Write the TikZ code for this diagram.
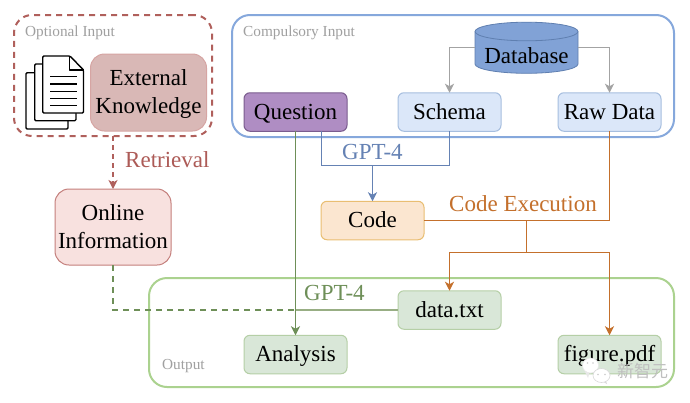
\documentclass[tikz,border=0pt]{standalone}
\usepackage{fontspec}
\setmainfont{Liberation Serif}
\newfontfamily\cjkwm{Noto Sans CJK SC}
\usetikzlibrary{arrows.meta,calc}
\definecolor{redline}{HTML}{B0605C}
\definecolor{redtext}{HTML}{AD5B57}
\definecolor{extfill}{HTML}{D9B8B6}
\definecolor{onlfill}{HTML}{F8E1DF}
\definecolor{onldraw}{HTML}{C47F7C}
\definecolor{blueframe}{HTML}{86A8DC}
\definecolor{dbfill}{HTML}{81A2D6}
\definecolor{dbdraw}{HTML}{5F7FB0}
\definecolor{schfill}{HTML}{DBE7F9}
\definecolor{schdraw}{HTML}{A6BEDF}
\definecolor{qfill}{HTML}{AF8DC3}
\definecolor{qdraw}{HTML}{7A5C8E}
\definecolor{gptblue}{HTML}{6582B4}
\definecolor{codefill}{HTML}{FBE6D0}
\definecolor{codedraw}{HTML}{E9BE72}
\definecolor{orangeline}{HTML}{C4702C}
\definecolor{greenframe}{HTML}{ABD28F}
\definecolor{greenfill}{HTML}{D9E7D8}
\definecolor{greendraw}{HTML}{B5CFA6}
\definecolor{greenline}{HTML}{6E8F58}
\definecolor{greensoft}{HTML}{98AE84}
\definecolor{greytext}{HTML}{A0A0A0}
\definecolor{greyline}{HTML}{A3A3A3}
\tikzset{
  x=1pt,y=-1pt,
  boxbase/.style={rectangle,rounded corners=6pt,line width=1pt,inner sep=0pt,outer sep=0pt,align=center,
    font=\fontsize{23}{28.3}\selectfont,text=black},
  smallbox/.style={boxbase,minimum width=103pt,minimum height=38.5pt,text height=19.5pt,text depth=5pt},
  extbox/.style={boxbase,rounded corners=14pt,minimum width=116pt,minimum height=77pt,draw=onldraw!70,fill=extfill,text height=47pt,text depth=5pt},
  onlbox/.style={boxbase,rounded corners=14pt,minimum width=116pt,minimum height=76pt,draw=onldraw,fill=onlfill,text height=47pt,text depth=4pt},
  qbox/.style={smallbox,draw=qdraw,fill=qfill},
  schbox/.style={smallbox,draw=schdraw,fill=schfill},
  codebox/.style={smallbox,draw=codedraw,fill=codefill},
  outbox/.style={smallbox,draw=greendraw,fill=greenfill},
  framebox/.style={rectangle,rounded corners=18pt,line width=2pt,inner sep=0pt,outer sep=0pt,fill=none},
  captxt/.style={font=\fontsize{15.3}{17}\selectfont,text=greytext,anchor=base west,inner sep=0pt},
  lbl/.style={font=\fontsize{23}{25}\selectfont,anchor=base west,inner sep=0pt},
  tip/.style={-{Stealth[length=9pt,width=9pt,inset=2.5pt]}},
  conn/.style={line width=1.5pt},
  sheet/.style={draw=black,line width=1.4pt,fill=white,rounded corners=1.2pt},
}
\begin{document}
\begin{tikzpicture}
\useasboundingbox (0,0) rectangle (690,402);
\fill[white] (0,0) rectangle (690,402);

% frames
\node[framebox,draw=redline,dashed,dash pattern=on 6pt off 5pt,minimum width=198pt,minimum height=121pt] (optf) at (113,75.5) {};
\node[framebox,draw=blueframe,minimum width=442pt,minimum height=122pt] (compf) at (453,76) {};
\node[framebox,draw=greenframe,minimum width=525pt,minimum height=109pt] (outf) at (411.5,332.5) {};

\node[captxt] (optl) at (25,36) {Optional Input};
\node[captxt] (compl) at (243,36) {Compulsory Input};
\node[captxt] (outl) at (162,369) {Output};

% document icon
\draw[sheet] (26,72.7) rectangle (68,129);
\draw[sheet] (34.7,64) rectangle (76,120.7);
\draw[sheet] (42.7,56) -- (70,56) -- (83.5,70) -- (83.5,113) -- (42.7,113) -- cycle;
\draw[line width=1.4pt,line join=round] (69.5,56) -- (69.5,70) -- (83.5,70);
\foreach \yy in {76.7,84,91.3,98.3,105.3}
  \draw[line width=1.4pt] (50,\yy) -- (77,\yy);

% cylinder
\path[fill=dbfill,draw=dbdraw,line width=.8pt] (475,31.5) -- (475,64) arc[start angle=180,end angle=360,x radius=51.5pt,y radius=9.3pt] -- (578,31.5) arc[start angle=0,end angle=180,x radius=51.5pt,y radius=9.3pt] -- cycle;
\draw[dbdraw,line width=.8pt] (475,31.5) arc[start angle=180,end angle=360,x radius=51.5pt,y radius=9.3pt];
\node[inner sep=0pt,outer sep=0pt,minimum width=103pt,minimum height=32pt,font=\fontsize{23}{28}\selectfont,text height=19.5pt,text depth=5pt] (db) at (526.5,56) {Database};
\coordinate (dbl) at (475,47.5);
\coordinate (dbr) at (578,47.5);

% nodes
\node[extbox] (ext) at (148.5,92.5) {External\\Knowledge};
\node[onlbox] (onl) at (113,227) {Online\\Information};
\node[qbox] (q) at (295.5,112) {Question};
\node[schbox] (sch) at (449.5,112) {Schema};
\node[schbox] (raw) at (609.5,112) {Raw Data};
\node[codebox] (code) at (372.5,220.5) {Code};
\node[outbox] (data) at (449.5,310) {data.txt};
\node[outbox] (ana) at (295.5,354.5) {Analysis};
\node[outbox] (fig) at (609.5,354.5) {figure.pdf};

% connectors
\draw[conn,greyline,tip] (dbl) -| (sch.north);
\draw[conn,greyline,tip] (dbr) -| (raw.north);
\draw[conn,redline,tip,dashed,dash pattern=on 5pt off 4pt,line width=1.6pt] (optf.south) -- (onl.north);
\draw[line width=2pt,greenline,dashed,dash pattern=on 6pt off 5pt] (onl.south) -- (113,310) -- (296,310);
\draw[line width=2pt,greensoft] (296,310) -- (data.west);
\draw[conn,greenline,tip] (q.south) -- (ana.north);
\coordinate (gj) at (372.5,165.5);
\draw[conn,gptblue] ([xshift=26pt]q.south) |- (gj) -| (sch.south);
\draw[conn,gptblue,tip] (gj) -- (code.north);
\coordinate (cj) at (526.5,220.5);
\coordinate (cs) at (526.5,252.5);
\draw[conn,orangeline] (code.east) -- (cj) -| (raw.south);
\draw[conn,orangeline] (cj) -- (cs);
\draw[conn,orangeline,tip] (cs) -| (data.north);
\draw[conn,orangeline,tip] (cs) -| (fig.north);

% labels
\node[lbl,text=redtext] (retr) at (125,167) {Retrieval};
\node[lbl,text=gptblue] (g1) at (342,159) {GPT-4};
\node[lbl,text=greenline] (g2) at (304,300) {GPT-4};
\node[lbl,text=orangeline] (ce) at (449,211) {Code Execution};

% watermark
\fill[white!82!gray] (585,372) -- (588,378) -- (590,371) -- cycle;
\draw[white!82!gray,fill=white,line width=.6pt] (590.5,365.5) ellipse[x radius=8pt,y radius=7.5pt];
\fill[white!60!gray] (587.5,363) circle[radius=.9pt];
\fill[white!60!gray] (593,363) circle[radius=.9pt];
\fill[white!70!gray] (606,381) -- (607,384) -- (602,381) -- cycle;
\draw[white!70!gray,fill=white,line width=.6pt] (601.5,375.5) ellipse[x radius=8.5pt,y radius=7pt];
\fill[white!60!gray] (598,374.5) circle[radius=.9pt];
\fill[white!60!gray] (605,374.5) circle[radius=.9pt];
\node[inner sep=0pt,anchor=west,font=\cjkwm\fontsize{17}{19}\selectfont,text=white!50!gray] (wm) at (617,371) {新智元};
\end{tikzpicture}
\end{document}
